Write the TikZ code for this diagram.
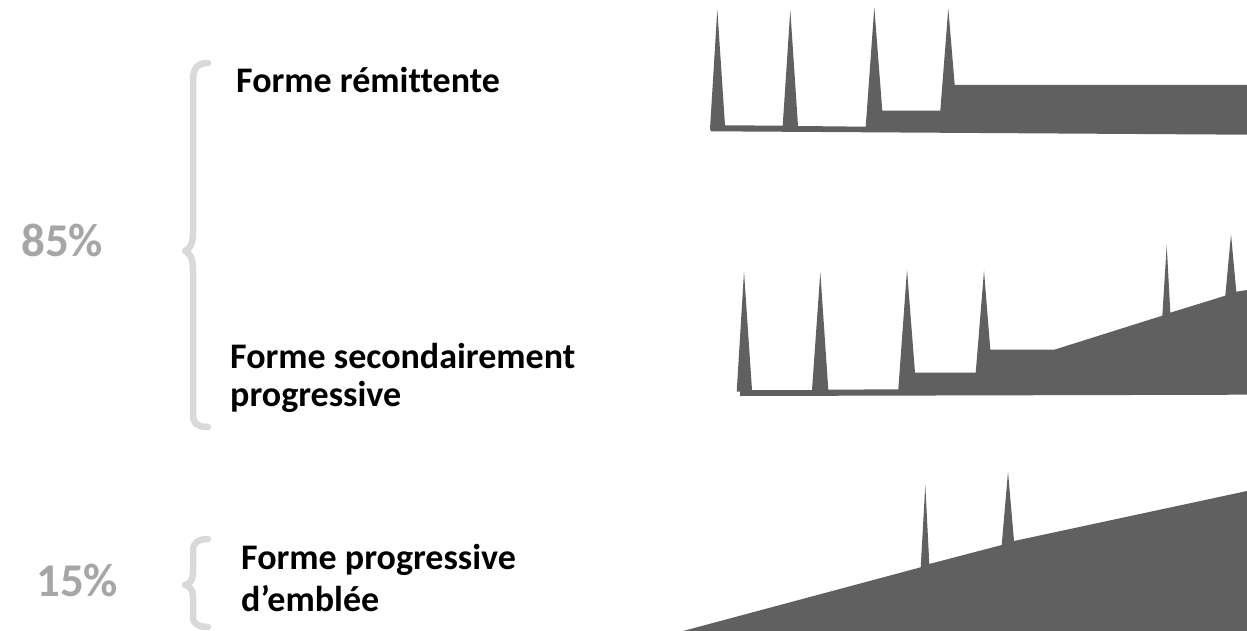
\documentclass[tikz,border=0pt]{standalone}
\usepackage{fontspec}
\setmainfont{Carlito}[Ligatures=NoCommon]
\definecolor{shapegray}{HTML}{606060}
\definecolor{bracegray}{HTML}{D9D9D9}
\definecolor{pctgray}{HTML}{A6A6A6}
\tikzset{
  wave/.style={fill=shapegray, draw=none},
  brace/.style={draw=bracegray, line width=6.5pt, line cap=round, line join=round},
  pct/.style={anchor=base west, inner sep=0pt, text=pctgray, font=\fontsize{47}{54}\selectfont\bfseries},
  lbl/.style={anchor=base west, inner sep=0pt, align=left}
}
\begin{document}
\begin{tikzpicture}[x=1pt,y=-1pt]
\useasboundingbox (0,0) rectangle (1247,631);
% waves
\fill[wave] (710,129) -- (717.3,9.3) -- (725,125.3) -- (782.7,125.7) -- (790.3,10) -- (798,126) -- (865.7,126.7) -- (874.3,7.3) -- (882.3,110.7) -- (940.3,110.7) -- (948.3,8.3) -- (954.7,85) -- (1247,85) -- (1247,134.7) -- (711,131.3) -- cycle;
\fill[wave] (736.7,391.7) -- (744,271.7) -- (752,390) -- (812,390) -- (820.3,272) -- (828.3,389.7) -- (898.3,389.3) -- (907,269.7) -- (915,372.7) -- (975.7,372.7) -- (984,270.7) -- (990.3,349.7) -- (1054.3,349.7) -- (1162.3,315.7) -- (1166.7,245.3) -- (1170.3,312.7) -- (1225.3,295.7) -- (1231,234.3) -- (1236.3,291.7) -- (1247,290) -- (1247,394.7) -- (740,396) -- (740,391.7) -- cycle;
\fill[wave] (683,631) -- (920.7,567.3) -- (925.3,485) -- (929.3,564) -- (1001.7,545) -- (1008,471.7) -- (1014,541) -- (1247,491) -- (1247,631) -- cycle;
% braces
\draw[brace] (208,63) .. controls (198,63) and (193,68) .. (193,80) -- (193,232) .. controls (193,244) and (190,249) .. (185,251) .. controls (190,253) and (193,258) .. (193,270) -- (193,414) .. controls (193,424) and (198,427) .. (208,427);
\draw[brace] (208,539) .. controls (199,539) and (193,542) .. (193,551) -- (193,573) .. controls (193,580) and (190,584) .. (185,585) .. controls (190,586) and (193,590) .. (193,597) -- (193,617) .. controls (193,624) and (199,627) .. (208,627);
% texts
\node[pct] (p85) at (21,256) {85\%};
\node[pct] (p15) at (36,596.7) {15\%};
\node[lbl, font=\fontsize{36}{41}\selectfont\bfseries] (rem) at (236,92.7) {Forme rémittente};
\node[lbl, font=\fontsize{36}{38.4}\selectfont\bfseries] (sec) at (230,406.7) {Forme secondairement\\progressive};
\node[lbl, font=\fontsize{36}{42.4}\selectfont\bfseries] (prog) at (241,611.7) {Forme progressive\\d’emblée};
\end{tikzpicture}
\end{document}
